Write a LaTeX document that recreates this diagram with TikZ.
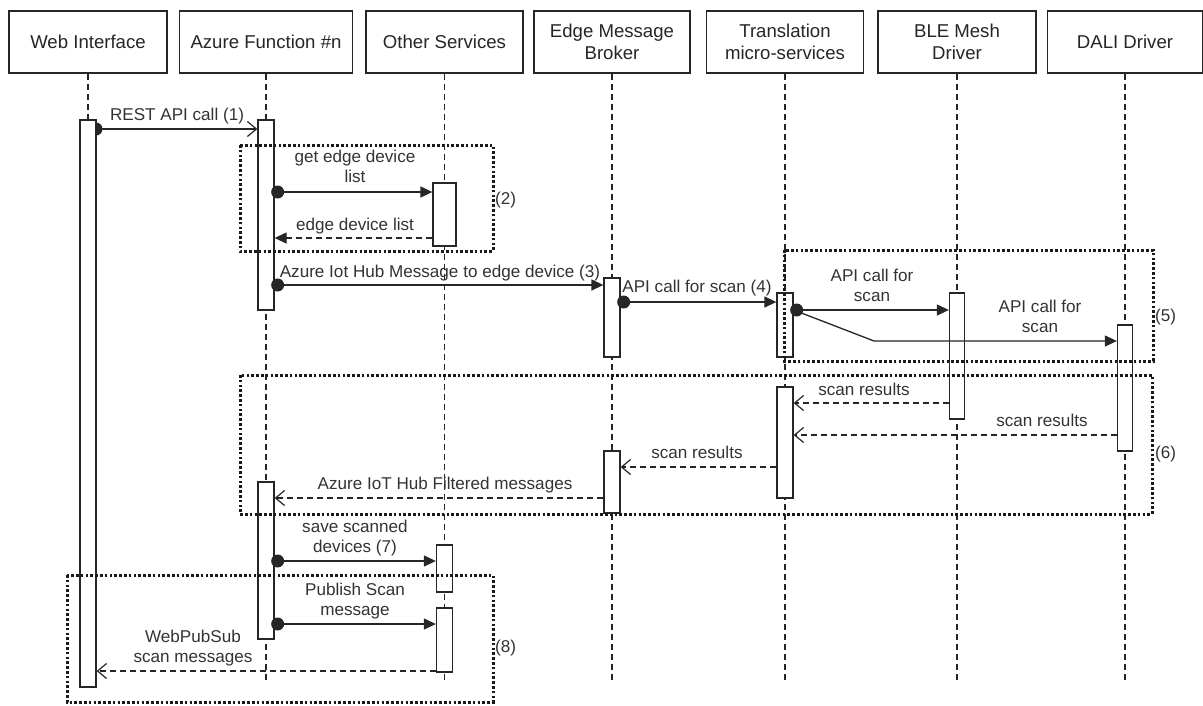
\documentclass[tikz,border=0pt]{standalone}
\usepackage{fontspec}
\setmainfont{Liberation Sans}
\usetikzlibrary{arrows.meta,calc}
\begin{document}
\begin{tikzpicture}[x=1pt,y=-1pt,
  hdr/.style={draw=black!85, line width=1.3pt, minimum height=62pt, inner sep=0pt, align=center,
    font=\fontsize{18.6}{21.5}\selectfont, text=black!85},
  bar/.style={draw=black!85, fill=white, line width=1.3pt, minimum width=16pt, inner sep=0pt},
  life/.style={draw=black!85, line width=1.2pt, dash pattern=on 6pt off 4pt},
  call/.style={draw=black!85, line width=1.3pt, -{Triangle[length=12pt,width=11pt]}},
  callo/.style={draw=black!85, line width=1.3pt, -{Straight Barb[length=9pt,width=15pt,line width=1.2pt]}},
  ret/.style={draw=black!85, line width=1.2pt, dash pattern=on 6pt off 4pt, -{Straight Barb[length=9pt,width=15pt,line width=1.2pt]}},
  retf/.style={draw=black!85, line width=1.2pt, dash pattern=on 6pt off 4pt, -{Triangle[length=12pt,width=11pt]}},
  lbl/.style={font=\fontsize{17.1}{20}\selectfont, text=black!80, align=center, inner sep=0pt, anchor=base},
  tag/.style={font=\fontsize{17.1}{20}\selectfont, text=black!80, inner sep=0pt, anchor=base west},
  frame/.style={draw=black!90, line width=3pt, dash pattern=on 2.6pt off 2.2pt}
]
\useasboundingbox (0,0) rectangle (1203,705);
\fill[white] (0,0) rectangle (1203,705);

% headers
\node[hdr, minimum width=158pt] (hW) at (88,42) {Web Interface};
\node[hdr, minimum width=173pt] (hA) at (266,42) {Azure Function \#n};
\node[hdr, minimum width=157pt] (hO) at (444.5,42) {Other Services};
\node[hdr, minimum width=156pt] (hE) at (612,42) {Edge Message\\Broker};
\node[hdr, minimum width=157pt] (hT) at (785,42) {Translation\\micro-services};
\node[hdr, minimum width=158pt] (hB) at (957,42) {BLE Mesh\\Driver};
\node[hdr, minimum width=155pt] (hD) at (1125,42) {DALI Driver};

% lifelines
\coordinate (lend) at (0,682);
\coordinate (wtop) at (0,120);
\draw[life] (hW.south) -- (hW.south |- wtop);
\foreach \h in {hA,hO,hE,hT,hB,hD}{\draw[life] (\h.south) -- (\h.south |- lend);}

% y levels of messages
\coordinate (y1) at (0,129);
\coordinate (y2) at (0,192);
\coordinate (y3) at (0,238);
\coordinate (y4) at (0,285);
\coordinate (y5) at (0,302);
\coordinate (y6) at (0,310);
\coordinate (bend) at (874,341);
\coordinate (y8) at (0,403);
\coordinate (y9) at (0,435);
\coordinate (y10) at (0,467);
\coordinate (y11) at (0,498);
\coordinate (y12) at (0,561);
\coordinate (y13) at (0,624);
\coordinate (y14) at (0,671);

% first dot (behind web bar)
\coordinate (wdot) at (96,129);
\fill[black!85] (wdot) circle[radius=6.5pt];

% activation bars
\node[bar, minimum height=567pt] (wb) at (88,403.5) {};
\node[bar, minimum height=190pt] (az1) at (266,215) {};
\node[bar, minimum width=23pt, minimum height=63pt] (os1) at (444.5,214.5) {};
\node[bar, minimum height=79pt] (eb1) at (612,317.5) {};
\node[bar, minimum height=64pt] (tr1) at (785,325) {};
\node[bar, minimum width=15pt, minimum height=126pt] (ble) at (957,356) {};
\node[bar, minimum width=15pt, minimum height=126pt] (dali) at (1125,388) {};
\node[bar, minimum height=111pt] (tr2) at (785,442.5) {};
\node[bar, minimum height=62pt] (eb2) at (612,482) {};
\node[bar, minimum height=157pt] (az2) at (266,560.5) {};
\node[bar, minimum height=47pt] (os2) at (444.5,568.5) {};
\node[bar, minimum height=64pt] (os3) at (444.5,640) {};

% messages
\draw[callo] (wb.east |- y1) -- (az1.west |- y1);
\draw[call] (az1.east |- y2) -- (os1.west |- y2);
\draw[retf] (os1.west |- y3) -- (az1.east |- y3);
\draw[call] (az1.east |- y4) -- (eb1.west |- y4);
\draw[call] (eb1.east |- y5) -- (tr1.west |- y5);
\draw[call] (tr1.east |- y6) -- (ble.west |- y6);
\draw[call] (tr1.east |- y6) -- (bend) -- (dali.west |- bend);
\draw[ret] (ble.west |- y8) -- (tr2.east |- y8);
\draw[ret] (dali.west |- y9) -- (tr2.east |- y9);
\draw[ret] (tr2.west |- y10) -- (eb2.east |- y10);
\draw[ret] (eb2.west |- y11) -- (az2.east |- y11);
\draw[call] (az2.east |- y12) -- (os2.west |- y12);
\draw[call] (az2.east |- y13) -- (os3.west |- y13);
\draw[ret] (os3.west |- y14) -- (wb.east |- y14);

% start dots
\foreach \b/\y in {az1/y2, az1/y4, eb1/y5, tr1/y6, az2/y12, az2/y13}{
  \fill[black!85] ([xshift=3pt]\b.east |- \y) circle[radius=6.5pt];
}

% labels (base = baseline of last line)
\node[lbl] (l1) at (177,120) {REST API call (1)};
\node[lbl] (l2) at (355,182) {get edge device\\list};
\node[lbl] (l3) at (355,230) {edge device list};
\node[lbl] (l4) at (440,277) {Azure Iot Hub Message to edge device (3)};
\node[lbl] (l5) at (697,292) {API call for scan (4)};
\node[lbl] (l6) at (872,301) {API call for\\scan};
\node[lbl] (l7) at (1040,332) {API call for\\scan};
\node[lbl] (l8) at (864,395) {scan results};
\node[lbl] (l9) at (1042,426) {scan results};
\node[lbl] (l10) at (697,458) {scan results};
\node[lbl] (l11) at (445,489) {Azure IoT Hub Filtered messages};
\node[lbl] (l12) at (355,552) {save scanned\\devices (7)};
\node[lbl] (l13) at (355,615) {Publish Scan\\message};
\node[lbl] (l14) at (193,662) {WebPubSub\\scan messages};

% frames
\draw[frame] (240,145) rectangle (493,251);
\draw[frame] (784,250) rectangle (1153,361);
\draw[frame] (240,375) rectangle (1152,514);
\draw[frame] (67,575) rectangle (493,702);
\node[tag] (t2) at (495,204) {(2)};
\node[tag] (t5) at (1155,321) {(5)};
\node[tag] (t6) at (1155,458) {(6)};
\node[tag] (t8) at (495,652) {(8)};
\end{tikzpicture}
\end{document}
